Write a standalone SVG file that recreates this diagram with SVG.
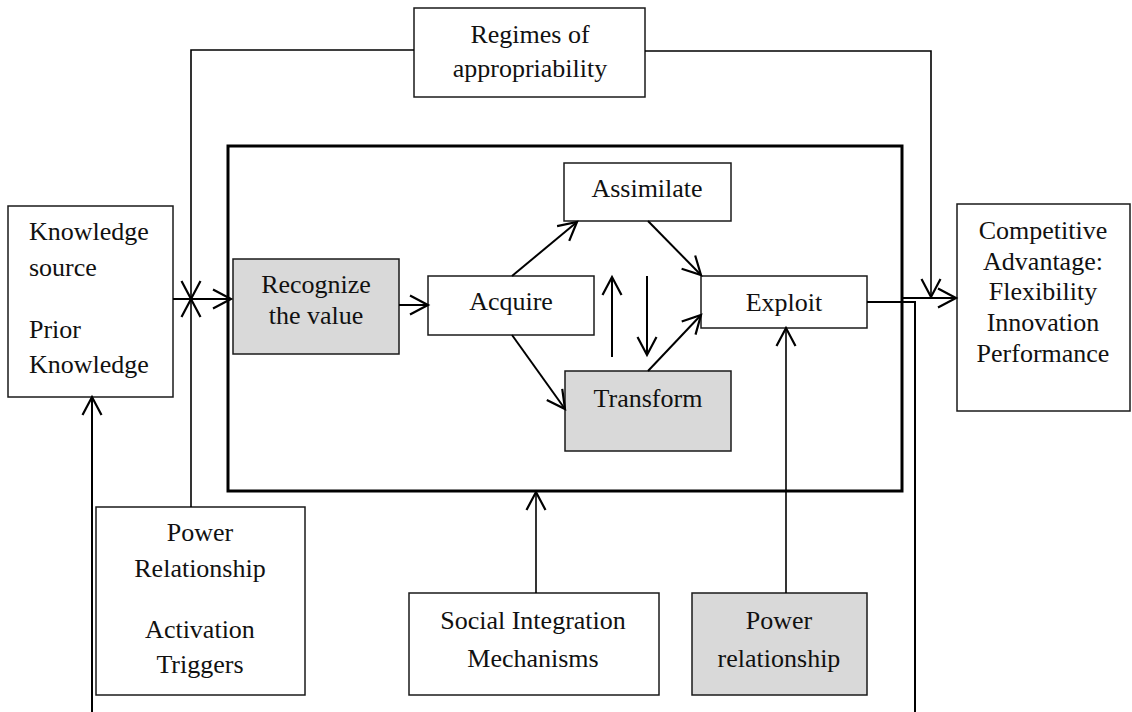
<svg xmlns="http://www.w3.org/2000/svg" width="1132" height="712" viewBox="0 0 1132 712">
  <style>
    .box { fill: #ffffff; stroke: #1a1a1a; stroke-width: 1.5; }
    .shade { fill: #d9d9d9; stroke: #1a1a1a; stroke-width: 1.5; }
    .frame { fill: none; stroke: #000; stroke-width: 3; }
    .lbl { font-family: "Liberation Serif", "Times New Roman", serif; font-size: 26px; fill: #111; }
    .mid { text-anchor: middle; }
    .wire { fill: none; stroke: #000; stroke-width: 2; }
    .thin { fill: none; stroke: #000; stroke-width: 1.6; }
  </style>
  <defs>
    <marker id="ah" markerUnits="userSpaceOnUse" viewBox="-22 -12 24 24" markerWidth="24" markerHeight="24" refX="0" refY="0" orient="auto" overflow="visible">
      <path d="M-18,-9.5 L0,0 L-18,9.5" fill="none" stroke="#000" stroke-width="2.2"/>
    </marker>
  </defs>

  <rect width="1132" height="712" fill="#ffffff"/>

  <!-- absorptive capacity frame -->
  <rect id="frame" class="frame" x="228" y="146" width="674" height="345"/>

  <g id="regimes">
    <rect class="box" x="414" y="8" width="231" height="89"/>
    <text class="lbl mid" x="530" y="43">Regimes of</text>
    <text class="lbl mid" x="530" y="77">appropriability</text>
  </g>

  <g id="knowledge-source">
    <rect class="box" x="8" y="206" width="165" height="191"/>
    <text class="lbl" x="29" y="240">Knowledge</text>
    <text class="lbl" x="29" y="276">source</text>
    <text class="lbl" x="29" y="338">Prior</text>
    <text class="lbl" x="29" y="373">Knowledge</text>
  </g>

  <g id="recognize">
    <rect class="shade" x="233" y="259" width="166" height="95"/>
    <text class="lbl mid" x="316" y="293">Recognize</text>
    <text class="lbl mid" x="316" y="324">the value</text>
  </g>

  <g id="acquire">
    <rect class="box" x="428" y="276" width="166" height="59"/>
    <text class="lbl mid" x="511" y="310">Acquire</text>
  </g>

  <g id="assimilate">
    <rect class="box" x="564" y="163" width="167" height="58"/>
    <text class="lbl mid" x="647" y="197">Assimilate</text>
  </g>

  <g id="transform">
    <rect class="shade" x="565" y="371" width="166" height="80"/>
    <text class="lbl mid" x="648" y="407">Transform</text>
  </g>

  <g id="exploit">
    <rect class="box" x="701" y="276" width="166" height="52"/>
    <text class="lbl mid" x="784" y="311">Exploit</text>
  </g>

  <g id="competitive-advantage">
    <rect class="box" x="957" y="204" width="173" height="207"/>
    <text class="lbl mid" x="1043" y="239">Competitive</text>
    <text class="lbl mid" x="1043" y="270">Advantage:</text>
    <text class="lbl mid" x="1043" y="300">Flexibility</text>
    <text class="lbl mid" x="1043" y="331">Innovation</text>
    <text class="lbl mid" x="1043" y="362">Performance</text>
  </g>

  <g id="power-activation">
    <rect class="box" x="96" y="507" width="209" height="188"/>
    <text class="lbl mid" x="200" y="541">Power</text>
    <text class="lbl mid" x="200" y="577">Relationship</text>
    <text class="lbl mid" x="200" y="638">Activation</text>
    <text class="lbl mid" x="200" y="673">Triggers</text>
  </g>

  <g id="social-integration">
    <rect class="box" x="409" y="593" width="250" height="102"/>
    <text class="lbl mid" x="533" y="629">Social Integration</text>
    <text class="lbl mid" x="533" y="667">Mechanisms</text>
  </g>

  <g id="power-relationship">
    <rect class="shade" x="692" y="593" width="175" height="102"/>
    <text class="lbl mid" x="779" y="629">Power</text>
    <text class="lbl mid" x="779" y="667">relationship</text>
  </g>

  <g id="connectors">
    <!-- regimes of appropriability, moderating both ends -->
    <polyline class="thin" points="414,50 191,50 191,299" marker-end="url(#ah)"/>
    <polyline class="thin" points="645,51 931,51 931,297" marker-end="url(#ah)"/>
    <!-- activation triggers -->
    <line class="thin" x1="191" y1="507" x2="191" y2="299" marker-end="url(#ah)"/>
    <!-- knowledge source into the process -->
    <line class="wire" x1="173" y1="299" x2="231" y2="299" marker-end="url(#ah)"/>
    <!-- internal flow -->
    <line class="wire" x1="399" y1="305" x2="428" y2="305" marker-end="url(#ah)"/>
    <line class="wire" x1="512" y1="276" x2="577" y2="222" marker-end="url(#ah)"/>
    <line class="wire" x1="512" y1="335" x2="565" y2="409" marker-end="url(#ah)"/>
    <line class="wire" x1="648" y1="221" x2="701" y2="275" marker-end="url(#ah)"/>
    <line class="wire" x1="648" y1="371" x2="701" y2="315" marker-end="url(#ah)"/>
    <line class="wire" x1="612" y1="357" x2="612" y2="277" marker-end="url(#ah)"/>
    <line class="wire" x1="647" y1="276" x2="647" y2="355" marker-end="url(#ah)"/>
    <!-- outcomes -->
    <line class="wire" x1="902" y1="298" x2="956" y2="298" marker-end="url(#ah)"/>
    <polyline class="wire" points="867,302 915,302 915,712"/>
    <line class="wire" x1="92" y1="712" x2="92" y2="397" marker-end="url(#ah)"/>
    <!-- contextual inputs -->
    <line class="thin" x1="536" y1="593" x2="536" y2="492" marker-end="url(#ah)"/>
    <line class="thin" x1="786" y1="593" x2="786" y2="328" marker-end="url(#ah)"/>
  </g>
</svg>
